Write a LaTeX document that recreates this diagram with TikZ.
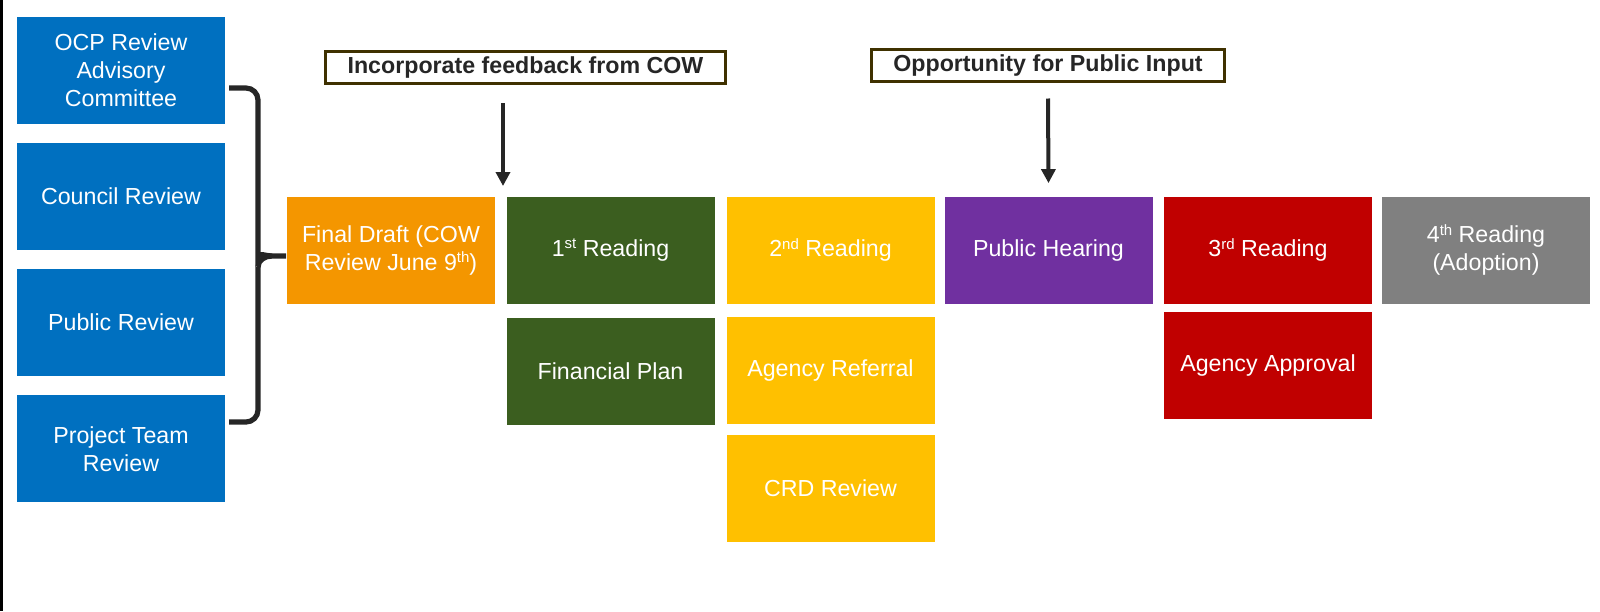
\documentclass[tikz,border=0pt]{standalone}
\usepackage{fontspec}
\setmainfont{Liberation Sans}
\usepackage{tikz}
\usetikzlibrary{arrows.meta}

\definecolor{ocpblue}{HTML}{0070C0}
\definecolor{draftorange}{HTML}{F49600}
\definecolor{readgreen}{HTML}{3B5E1F}
\definecolor{readyellow}{HTML}{FFC000}
\definecolor{hearpurple}{HTML}{7030A0}
\definecolor{readred}{HTML}{C00000}
\definecolor{adoptgray}{HTML}{808080}
\definecolor{notebrown}{HTML}{3F3100}
\definecolor{inkgray}{HTML}{262626}

\newcommand{\ordsup}[1]{\raisebox{0.6ex}{\fontsize{7.5}{8}\selectfont #1}}

\begin{document}
\begin{tikzpicture}[x=0.5pt, y=-0.5pt,
    stage/.style={minimum width=104pt, minimum height=53.5pt, inner sep=0pt,
        align=center, text=white, font=\fontsize{11.6}{14}\selectfont},
    note/.style={draw=notebrown, line width=1.5pt, fill=white, text=inkgray,
        inner xsep=11pt, inner ysep=0pt, minimum height=16pt,
        font=\bfseries\fontsize{11.6}{14}\selectfont},
    flow/.style={-{Triangle[width=7pt,length=7pt]}, line width=2pt, draw=inkgray}]
    \useasboundingbox (0,0) rectangle (1600,611);
    \fill[black] (0,0) rectangle (2.5,611);
    % review groups
    \foreach \name/\txt [count=\i from 0] in {ocp/{OCP Review\\Advisory\\Committee},
            council/Council Review, public/Public Review, team/{Project Team\\Review}}
        \node[stage, fill=ocpblue] (\name) at (121, 70+126.3*\i) {\txt};
    % bracket
    \draw[inkgray, line width=2.6pt, rounded corners=6pt]
        (229,88) -- (258,88) -- (258,245) to[out=-90,in=180] (272,256)
        (258,267) -- (258,422) -- (229,422);
    \draw[inkgray, line width=2.6pt] (258,267) to[out=90,in=180] (272,256) -- (286,256);
    % first row
    \node[stage, fill=draftorange] (draft) at (391,250) {Final Draft (COW\\Review June 9\ordsup{th})};
    \node[stage, fill=readgreen] (first) at (610.5,250) {1\ordsup{st} Reading};
    \node[stage, fill=readyellow] (second) at (830.5,250) {2\ordsup{nd} Reading};
    \node[stage, fill=hearpurple] (hearing) at (1048.5,250) {Public Hearing};
    \node[stage, fill=readred] (third) at (1268,250) {3\ordsup{rd} Reading};
    \node[stage, fill=adoptgray] (fourth) at (1486,250) {4\ordsup{th} Reading\\(Adoption)};
    % second row
    \node[stage, fill=readgreen] (finplan) at (610.5,371) {Financial Plan};
    \node[stage, fill=readyellow] (referral) at (830.5,370) {Agency Referral};
    \node[stage, fill=readyellow] (crd) at (830.5,488.5) {CRD Review};
    \node[stage, fill=readred] (approval) at (1268,365.5) {Agency Approval};
    % notes
    \node[note] (feedback) at (525.5,67) {Incorporate feedback from COW};
    \node[note] (pubinput) at (1048,65) {Opportunity for Public Input};
    \coordinate (fbtail) at (503,103);
    \coordinate (fbtip) at (503,186);
    \draw[flow] (fbtail) -- (fbtip);
    \draw[flow] ([yshift=-8pt]pubinput.south) -- ([yshift=6.5pt]hearing.north);
\end{tikzpicture}
\end{document}
